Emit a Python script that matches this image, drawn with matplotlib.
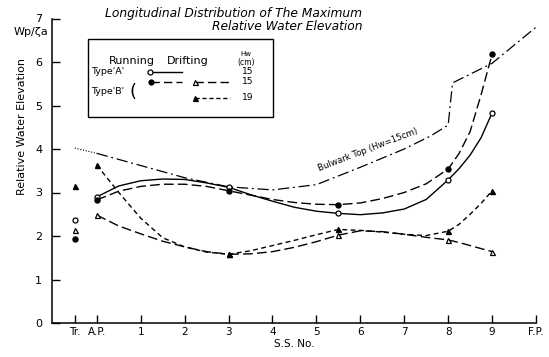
import matplotlib
matplotlib.use('Agg')
import matplotlib.pyplot as plt
from matplotlib.lines import Line2D
from matplotlib.patches import Rectangle

# measured stations (A.P. = 0, Tr. = -0.5)
stations = [0, 3, 5.5, 8, 9]
tr_x = -0.5

a_run = [2.90, 3.13, 2.52, 3.29, 4.83]
b_run = [2.83, 3.04, 2.72, 3.54, 6.18]
b_drift15 = [2.48, 1.58, 2.02, 1.91, 1.64]
b_drift19 = [3.63, 1.58, 2.15, 2.11, 3.04]

# values at the transom (Tr.)
a_run_tr = 2.37
b_run_tr = 1.92
b_drift15_tr = 2.13
b_drift19_tr = 3.15

# faired curves
curve_x = [0, 0.5, 1, 1.5, 2, 2.5, 3, 3.5, 4, 4.5, 5, 5.5, 6, 6.5, 7, 7.5, 8, 8.25, 8.5, 8.75, 9]
a_run_curve = [2.90, 3.15, 3.27, 3.31, 3.30, 3.22, 3.12, 2.95, 2.80, 2.66, 2.57, 2.52, 2.49, 2.53, 2.62, 2.84, 3.29, 3.55, 3.86, 4.26, 4.83]
b_run_curve = [2.83, 3.03, 3.14, 3.19, 3.19, 3.14, 3.04, 2.94, 2.84, 2.77, 2.73, 2.72, 2.76, 2.86, 3.00, 3.20, 3.54, 3.90, 4.40, 5.25, 6.18]
b_drift15_curve = [2.48, 2.23, 2.05, 1.88, 1.75, 1.64, 1.58, 1.59, 1.64, 1.74, 1.87, 2.02, 2.12, 2.10, 2.04, 1.97, 1.91, 1.85, 1.78, 1.71, 1.64]
b_drift19_curve = [3.63, 3.00, 2.41, 1.96, 1.75, 1.63, 1.58, 1.66, 1.78, 1.90, 2.03, 2.15, 2.13, 2.09, 2.04, 2.01, 2.11, 2.27, 2.50, 2.75, 3.04]

# bulwark top (Hw = 15 cm)
bulwark_x = [0, 1, 2, 3, 4, 5, 6, 7, 7.6, 8.0, 8.1, 9, 10]
bulwark_y = [3.90, 3.62, 3.34, 3.13, 3.06, 3.18, 3.58, 4.00, 4.30, 4.55, 5.52, 5.97, 6.80]
bulwark_tr_x = [-0.5, 0]
bulwark_tr_y = [4.02, 3.90]

tick_pos = [-0.5, 0, 1, 2, 3, 4, 5, 6, 7, 8, 9, 10]
tick_lab = ['Tr.', 'A.P.', '1', '2', '3', '4', '5', '6', '7', '8', '9', 'F.P.']

W, H = 549, 357
fig = plt.figure(figsize=(W / 100, H / 100), dpi=100)
ax = fig.add_axes([52 / W, 1 - 323 / H, (536 - 52) / W, (323 - 18.5) / H])


def px(x, y):
    # pixel position -> figure fraction
    return x / W, 1 - y / H


long_dash = (0, (7, 3))
short_dash = (0, (3.5, 2.5))
dash_dot = (0, (9, 3, 1.5, 3))
lw = 1.0
ms = 3.6

ax.plot(curve_x, a_run_curve, color='black', lw=lw, linestyle='-')
ax.plot(curve_x, b_run_curve, color='black', lw=lw, linestyle=long_dash)
ax.plot(curve_x, b_drift15_curve, color='black', lw=lw, linestyle=long_dash)
ax.plot(curve_x, b_drift19_curve, color='black', lw=lw, linestyle=short_dash)

ax.plot(bulwark_x, bulwark_y, color='black', lw=0.9, linestyle=dash_dot, clip_on=False)
ax.plot(bulwark_tr_x, bulwark_tr_y, color='black', lw=0.8, linestyle=(0, (1, 1.5)))

ax.plot(stations + [tr_x], a_run + [a_run_tr], 'o', ms=ms, mfc='white', mec='black', mew=0.9, ls='none')
ax.plot(stations + [tr_x], b_run + [b_run_tr], 'o', ms=ms, mfc='black', mec='black', ls='none')
ax.plot(stations + [tr_x], b_drift15 + [b_drift15_tr], '^', ms=ms, mfc='white', mec='black', mew=0.9, ls='none')
ax.plot(stations + [tr_x], b_drift19 + [b_drift19_tr], '^', ms=ms, mfc='black', mec='black', ls='none')

ax.text(6.18, 3.98, 'Bulwark Top (Hw=15cm)', fontsize=6.2, rotation=21,
        ha='center', va='center', rotation_mode='anchor')

ax.set_xlim(-1.02, 10)
ax.set_ylim(0, 7)
ax.set_xticks(tick_pos)
ax.set_xticklabels(tick_lab)
ax.set_yticks(range(0, 8))
ax.tick_params(axis='x', direction='in', length=6, width=1, pad=3, labelsize=7.5)
ax.tick_params(axis='y', direction='in', length=6, width=1, pad=7, labelsize=8)
for s in ['top', 'right']:
    ax.spines[s].set_visible(False)
for s in ['left', 'bottom']:
    ax.spines[s].set_linewidth(1.1)

ax.set_xlabel('S.S. No.', fontsize=7.5, labelpad=1)
fig.text(*px(22, 126), 'Relative Water Elevation', rotation=90, fontsize=8,
         ha='center', va='center')
fig.text(*px(31, 32), 'Wp/ζa', fontsize=8, ha='center', va='center')

# title
fig.text(*px(362, 13), 'Longitudinal Distribution of The Maximum', fontsize=8.8,
         style='italic', ha='right', va='center')
fig.text(*px(362, 26), 'Relative Water Elevation', fontsize=8.8,
         style='italic', ha='right', va='center')

# legend box
x0, y0 = px(88, 117)
x1, y1 = px(273, 39)
fig.add_artist(Rectangle((x0, y0), x1 - x0, y1 - y0, transform=fig.transFigure,
                         fill=False, ec='black', lw=1.0))
fig.text(*px(132, 61), 'Running', fontsize=8, ha='center', va='center')
fig.text(*px(188, 61), 'Drifting', fontsize=8, ha='center', va='center')
fig.text(*px(246, 54), 'Hw', fontsize=5, ha='center', va='center')
fig.text(*px(246, 63), '(cm)', fontsize=5.5, ha='center', va='center')
fig.text(*px(91, 72), "Type'A'", fontsize=6.8, ha='left', va='center')
fig.text(*px(91, 91), "Type'B'", fontsize=6.8, ha='left', va='center')
fig.text(*px(133, 92), '(', fontsize=13, ha='center', va='center', color='black')
for yy, lab in [(72, '15'), (82, '15'), (98, '19')]:
    fig.text(*px(248, yy), lab, fontsize=6.5, ha='center', va='center')


def legend_line(xa, xb, yy, ls, marker, mfc):
    (fa, fy), (fb, _) = px(xa, yy), px(xb, yy)
    fig.add_artist(Line2D([fa, fb], [fy, fy], transform=fig.transFigure,
                          color='black', lw=lw, linestyle=ls))
    fig.add_artist(Line2D([fa], [fy], transform=fig.transFigure, marker=marker,
                          ms=ms, mfc=mfc, mec='black', mew=0.9, ls='none'))


legend_line(150, 182, 72, '-', 'o', 'white')
legend_line(151, 182, 82, (0, (6, 3)), 'o', 'black')
legend_line(195, 230, 82, (0, (6, 3)), '^', 'white')
legend_line(195, 230, 98, (0, (3, 2)), '^', 'black')

fig.savefig('out.png', dpi=100, facecolor='white')
